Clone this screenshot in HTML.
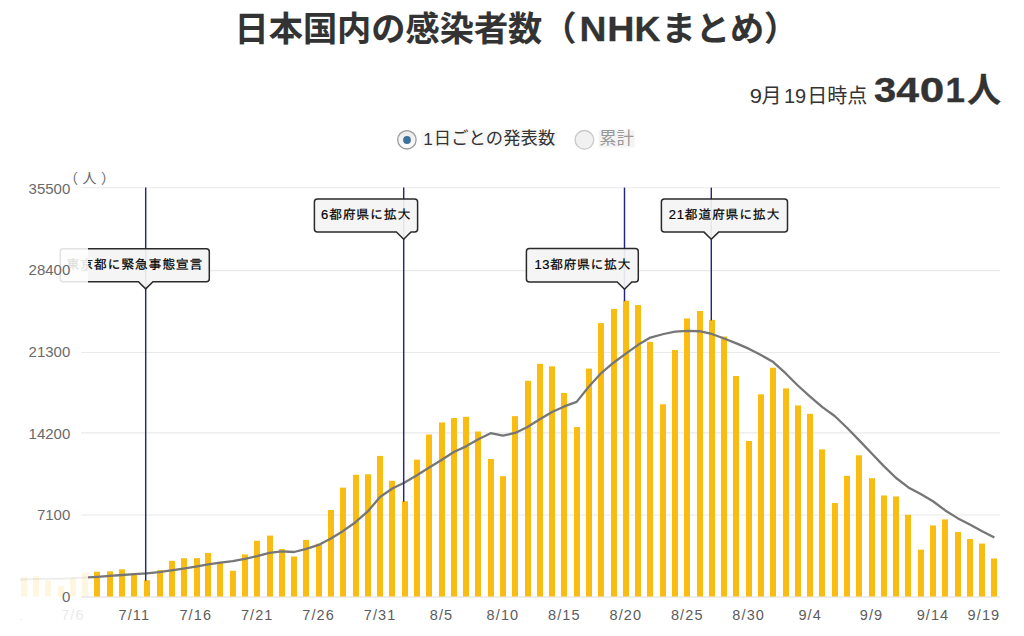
<!DOCTYPE html>
<html lang="ja"><head><meta charset="utf-8"><title>日本国内の感染者数（NHKまとめ）</title>
<style>html,body{margin:0;padding:0;background:#fff}body{width:1024px;height:636px;overflow:hidden;font-family:"Liberation Sans","Noto Sans CJK JP",sans-serif}svg{display:block}text{font-family:"Liberation Sans","Noto Sans CJK JP",sans-serif}</style></head><body>
<svg width="1024" height="636" viewBox="0 0 1024 636">
<rect width="1024" height="636" fill="#fff"/>
<defs><clipPath id="plot"><rect x="88" y="150" width="912" height="460"/></clipPath><clipPath id="fade"><rect x="20" y="150" width="68" height="480"/></clipPath></defs>
<g fill="#333"><title>日本国内の感染者数（NHKまとめ）</title>
<text x="234.5" y="41" font-size="34.2" font-weight="bold" textLength="342" stroke="#333" stroke-width="0.1">日本国内の感染者数（</text>
<text x="661.5" y="41" font-size="34.2" font-weight="bold" textLength="136.8" stroke="#333" stroke-width="0.1">まとめ）</text>
<text transform="translate(579.5,41.3) scale(1.07,1)" font-size="34.9" font-weight="bold" stroke="#333" stroke-width="0.25">N</text>
<text transform="translate(607.27,41.3) scale(1.08,1)" font-size="34.9" font-weight="bold" stroke="#333" stroke-width="0.25">H</text>
<text transform="translate(634.6,41.3) scale(1.03,1)" font-size="34.9" font-weight="bold" stroke="#333" stroke-width="0.25">K</text>
</g>
<g fill="#333"><title>9月19日時点 3401人</title>
<text transform="translate(749.7,102.8) scale(1.1,1)" font-size="20">9</text>
<text transform="translate(783.9,102.8) scale(1,1)" font-size="20">19</text>
<text x="761.5" y="102.6" font-size="20">月</text>
<text x="807.2" y="102.6" font-size="20">日時点</text>
<text transform="translate(873.99,102.4) scale(1.14,1)" font-size="35" font-weight="bold" stroke="#333" stroke-width="0.35">3</text>
<text transform="translate(896.28,102.4) scale(1.17,1)" font-size="35" font-weight="bold" stroke="#333" stroke-width="0.35">4</text>
<text transform="translate(919.85,102.4) scale(1.26,1)" font-size="35" font-weight="bold" stroke="#333" stroke-width="0.35">0</text>
<text transform="translate(945.59,102.4) scale(1,1)" font-size="35" font-weight="bold" stroke="#333" stroke-width="0.35">1</text>
<text x="967" y="102" font-size="34" font-weight="bold" stroke="#333" stroke-width="0.3">人</text></g>
<defs><linearGradient id="rg" x1="0" y1="0" x2="0" y2="1"><stop offset="0" stop-color="#e9e9e9"/><stop offset="1" stop-color="#ffffff"/></linearGradient></defs>
<rect x="421" y="130.5" width="136" height="17" fill="#f8f8f8"/><rect x="598.5" y="130.5" width="36" height="17" fill="#f4f4f4"/>
<circle cx="406.9" cy="139.8" r="9.2" fill="url(#rg)" stroke="#9c9c9c" stroke-width="1.3"/><circle cx="407" cy="140" r="3.9" fill="#3f729b"/>
<g fill="#333"><title>1日ごとの発表数</title>
<text transform="translate(423.2,144.6) scale(1,1)" font-size="17.3">1</text>
<text x="433.8" y="144.4" font-size="17.3" textLength="121.5">日ごとの発表数</text></g>
<circle cx="584.4" cy="139.8" r="9.3" fill="#f1f1f1" stroke="#c9c9c9" stroke-width="1.3"/>
<g fill="#999"><title>累計</title><text x="599.3" y="144.4" font-size="17.3" textLength="34.6">累計</text></g>
<line x1="81" x2="1000.2" y1="597" y2="597" stroke="#dcdce4" stroke-width="1.1"/>
<line x1="81" x2="1000.2" y1="515" y2="515" stroke="#eaeaea" stroke-width="1.1"/>
<line x1="81" x2="1000.2" y1="432.9" y2="432.9" stroke="#eaeaea" stroke-width="1.1"/>
<line x1="81" x2="1000.2" y1="352.5" y2="352.5" stroke="#eaeaea" stroke-width="1.1"/>
<line x1="81" x2="1000.2" y1="270.6" y2="270.6" stroke="#eaeaea" stroke-width="1.1"/>
<line x1="81" x2="1000.2" y1="187.7" y2="187.7" stroke="#eaeaea" stroke-width="1.1"/>
<g fill="#f8bc12" opacity="0.13" clip-path="url(#fade)"><rect x="8" y="577.38" width="6" height="19.12"/><rect x="21" y="577.13" width="6" height="19.37"/><rect x="33" y="575.92" width="6" height="20.58"/><rect x="45" y="580.46" width="6" height="16.04"/><rect x="58" y="585.68" width="6" height="10.82"/><rect x="70" y="578.34" width="6" height="18.16"/><rect x="82" y="572.37" width="6" height="24.13"/></g>
<g fill="#f8bc12" clip-path="url(#plot)"><rect x="82" y="572.37" width="6" height="24.13"/><rect x="94" y="571.73" width="6" height="24.77"/><rect x="107" y="571.37" width="6" height="25.13"/><rect x="119" y="569.3" width="6" height="27.2"/><rect x="131" y="574.19" width="6" height="22.31"/><rect x="144" y="580.22" width="6" height="16.28"/><rect x="157" y="570.13" width="6" height="26.37"/><rect x="169" y="560.86" width="6" height="35.64"/><rect x="181" y="558.29" width="6" height="38.21"/><rect x="194" y="558.13" width="6" height="38.37"/><rect x="205" y="552.92" width="6" height="43.58"/><rect x="217" y="561.9" width="6" height="34.6"/><rect x="230" y="570.78" width="6" height="25.72"/><rect x="242" y="554.39" width="6" height="42.11"/><rect x="254" y="540.79" width="6" height="55.71"/><rect x="267" y="535.59" width="6" height="60.91"/><rect x="279" y="549.03" width="6" height="47.47"/><rect x="291" y="556.5" width="6" height="40"/><rect x="303" y="539.91" width="6" height="56.59"/><rect x="316" y="543.67" width="6" height="52.83"/><rect x="328" y="509.98" width="6" height="86.52"/><rect x="340" y="487.65" width="6" height="108.85"/><rect x="353" y="474.76" width="6" height="121.74"/><rect x="365" y="474.25" width="6" height="122.25"/><rect x="377" y="455.93" width="6" height="140.57"/><rect x="389" y="480.75" width="6" height="115.75"/><rect x="402" y="501.22" width="6" height="95.28"/><rect x="414" y="459.64" width="6" height="136.86"/><rect x="426" y="434.52" width="6" height="161.98"/><rect x="439" y="422.41" width="6" height="174.09"/><rect x="451" y="418.02" width="6" height="178.48"/><rect x="463" y="416.78" width="6" height="179.72"/><rect x="475" y="431.48" width="6" height="165.02"/><rect x="488" y="459" width="6" height="137.5"/><rect x="500" y="476.2" width="6" height="120.3"/><rect x="512" y="416.11" width="6" height="180.39"/><rect x="525" y="380.81" width="6" height="215.69"/><rect x="537" y="363.88" width="6" height="232.62"/><rect x="549" y="366.33" width="6" height="230.17"/><rect x="561" y="392.93" width="6" height="203.57"/><rect x="574" y="427.1" width="6" height="169.4"/><rect x="586" y="368.58" width="6" height="227.92"/><rect x="598" y="323.13" width="6" height="273.37"/><rect x="611" y="308.91" width="6" height="287.59"/><rect x="623" y="300.65" width="6" height="295.85"/><rect x="635" y="305.06" width="6" height="291.44"/><rect x="647" y="341.85" width="6" height="254.65"/><rect x="660" y="404.3" width="6" height="192.2"/><rect x="672" y="350.05" width="6" height="246.45"/><rect x="684" y="318.49" width="6" height="278.01"/><rect x="697" y="310.98" width="6" height="285.52"/><rect x="709" y="319.88" width="6" height="276.62"/><rect x="721" y="336.54" width="6" height="259.96"/><rect x="733" y="375.96" width="6" height="220.54"/><rect x="746" y="441.05" width="6" height="155.45"/><rect x="758" y="394.3" width="6" height="202.2"/><rect x="770" y="367.71" width="6" height="228.79"/><rect x="783" y="388.39" width="6" height="208.11"/><rect x="795" y="405.47" width="6" height="191.03"/><rect x="807" y="413.81" width="6" height="182.69"/><rect x="819" y="449.42" width="6" height="147.08"/><rect x="832" y="503.04" width="6" height="93.46"/><rect x="844" y="475.84" width="6" height="120.66"/><rect x="856" y="455.3" width="6" height="141.2"/><rect x="869" y="478.19" width="6" height="118.31"/><rect x="881" y="495.49" width="6" height="101.01"/><rect x="893" y="496.47" width="6" height="100.03"/><rect x="905" y="514.77" width="6" height="81.73"/><rect x="918" y="549.65" width="6" height="46.85"/><rect x="930" y="525.49" width="6" height="71.01"/><rect x="942" y="519.42" width="6" height="77.08"/><rect x="955" y="532.05" width="6" height="64.45"/><rect x="967" y="539.05" width="6" height="57.45"/><rect x="979" y="543.56" width="6" height="52.94"/><rect x="991" y="558.48" width="6" height="38.02"/></g>
<polyline points="11.45,579.58 23.74,579.47 36.02,579.05 48.31,578.72 60.6,578.67 72.89,578.2 85.17,577.59 97.46,576.78 109.75,575.95 122.03,575 134.32,574.1 146.61,573.31 158.89,572.13 171.18,570.48 183.47,568.55 195.75,566.65 208.04,564.3 220.33,562.53 232.62,561.18 244.9,558.92 257.19,556.04 269.48,552.78 281.76,551.47 294.05,551.99 306.34,548.83 318.62,544.94 330.91,538.56 343.2,530.93 355.49,522.2 367.77,511.46 380.06,497.02 392.35,488.53 404.63,482.43 416.92,475.2 429.21,467.58 441.5,460.06 453.78,451.99 466.07,446.37 478.36,439.29 490.64,433.23 502.93,435.61 515.22,432.96 527.5,426.99 539.79,419.22 552.08,411.97 564.37,406.44 576.65,401.86 588.94,386.41 601.23,373.06 613.51,362.74 625.8,353.66 638.09,344.86 650.37,337.53 662.66,334.25 674.95,331.59 687.24,330.93 699.52,331.23 711.81,333.99 724.1,338.51 736.38,343.4 748.67,348.68 760.96,355.03 773.24,362.1 785.53,373.21 797.82,385.5 810.11,396.59 822.39,407.14 834.68,416.04 846.97,427.75 859.25,440.33 871.54,453.22 883.83,466.14 896.11,478.01 908.4,487.39 920.69,494.09 932.98,501.21 945.26,510.42 957.55,518.15 969.84,524.41 982.12,531.17 994.41,537.45" fill="none" stroke="#7d7d7d" stroke-width="2" stroke-linejoin="round" opacity="0.13" clip-path="url(#fade)"/>
<polyline points="11.45,579.58 23.74,579.47 36.02,579.05 48.31,578.72 60.6,578.67 72.89,578.2 85.17,577.59 97.46,576.78 109.75,575.95 122.03,575 134.32,574.1 146.61,573.31 158.89,572.13 171.18,570.48 183.47,568.55 195.75,566.65 208.04,564.3 220.33,562.53 232.62,561.18 244.9,558.92 257.19,556.04 269.48,552.78 281.76,551.47 294.05,551.99 306.34,548.83 318.62,544.94 330.91,538.56 343.2,530.93 355.49,522.2 367.77,511.46 380.06,497.02 392.35,488.53 404.63,482.43 416.92,475.2 429.21,467.58 441.5,460.06 453.78,451.99 466.07,446.37 478.36,439.29 490.64,433.23 502.93,435.61 515.22,432.96 527.5,426.99 539.79,419.22 552.08,411.97 564.37,406.44 576.65,401.86 588.94,386.41 601.23,373.06 613.51,362.74 625.8,353.66 638.09,344.86 650.37,337.53 662.66,334.25 674.95,331.59 687.24,330.93 699.52,331.23 711.81,333.99 724.1,338.51 736.38,343.4 748.67,348.68 760.96,355.03 773.24,362.1 785.53,373.21 797.82,385.5 810.11,396.59 822.39,407.14 834.68,416.04 846.97,427.75 859.25,440.33 871.54,453.22 883.83,466.14 896.11,478.01 908.4,487.39 920.69,494.09 932.98,501.21 945.26,510.42 957.55,518.15 969.84,524.41 982.12,531.17 994.41,537.45" fill="none" stroke="#767676" stroke-width="2.3" stroke-linejoin="round" clip-path="url(#plot)"/>
<line x1="145.7" x2="145.7" y1="187.6" y2="580.72" stroke="#26267e" stroke-width="1.45"/>
<line x1="403.7" x2="403.7" y1="187.6" y2="501.72" stroke="#26267e" stroke-width="1.45"/>
<line x1="624.5" x2="624.5" y1="187.6" y2="301.15" stroke="#26267e" stroke-width="1.45"/>
<line x1="711.3" x2="711.3" y1="187.6" y2="320.38" stroke="#26267e" stroke-width="1.45"/>
<g opacity="0.13" clip-path="url(#fade)"><g><title>東京都に緊急事態宣言</title><path d="M63.2,248.7H206.3Q209.3,248.7 209.3,251.7V278.7Q209.3,281.7 206.3,281.7H153L145.7,288.9L138.4,281.7H63.2Q60.2,281.7 60.2,278.7V251.7Q60.2,248.7 63.2,248.7Z" fill="#f4f4f4" fill-opacity="0.92" stroke="#2a2a2a" stroke-width="1.5"/><text x="66.5" y="269.2" font-size="13" textLength="136" fill="#000" stroke="#000" stroke-width="0.2" style="font-family:'Liberation Sans','IPAGothic','Noto Sans CJK JP',sans-serif">東京都に緊急事態宣言</text></g></g>
<g clip-path="url(#plot)"><g><title>東京都に緊急事態宣言</title><path d="M63.2,248.7H206.3Q209.3,248.7 209.3,251.7V278.7Q209.3,281.7 206.3,281.7H153L145.7,288.9L138.4,281.7H63.2Q60.2,281.7 60.2,278.7V251.7Q60.2,248.7 63.2,248.7Z" fill="#f4f4f4" fill-opacity="0.92" stroke="#2a2a2a" stroke-width="1.5"/><text x="66.5" y="269.2" font-size="13" textLength="136" fill="#000" stroke="#000" stroke-width="0.2" style="font-family:'Liberation Sans','IPAGothic','Noto Sans CJK JP',sans-serif">東京都に緊急事態宣言</text></g></g>
<g><title>6都府県に拡大</title><path d="M317.4,198.9H414.6Q417.6,198.9 417.6,201.9V229Q417.6,232 414.6,232H411L403.7,239.2L396.4,232H317.4Q314.4,232 314.4,229V201.9Q314.4,198.9 317.4,198.9Z" fill="#f4f4f4" fill-opacity="0.92" stroke="#2a2a2a" stroke-width="1.5"/><text x="321" y="219.4" font-size="13" textLength="89.5" fill="#000" stroke="#000" stroke-width="0.2" style="font-family:'Liberation Sans','IPAGothic','Noto Sans CJK JP',sans-serif">6都府県に拡大</text></g>
<g><title>13都府県に拡大</title><path d="M529.4,248.6H635.3Q638.3,248.6 638.3,251.6V279Q638.3,282 635.3,282H631.8L624.5,289.2L617.2,282H529.4Q526.4,282 526.4,279V251.6Q526.4,248.6 529.4,248.6Z" fill="#f4f4f4" fill-opacity="0.92" stroke="#2a2a2a" stroke-width="1.5"/><text x="534.5" y="269.2" font-size="13" textLength="96" fill="#000" stroke="#000" stroke-width="0.2" style="font-family:'Liberation Sans','IPAGothic','Noto Sans CJK JP',sans-serif">13都府県に拡大</text></g>
<g><title>21都道府県に拡大</title><path d="M664.4,198.9H784.5Q787.5,198.9 787.5,201.9V229.1Q787.5,232.1 784.5,232.1H718.6L711.3,239.3L704,232.1H664.4Q661.4,232.1 661.4,229.1V201.9Q661.4,198.9 664.4,198.9Z" fill="#f4f4f4" fill-opacity="0.92" stroke="#2a2a2a" stroke-width="1.5"/><text x="668.8" y="219.2" font-size="13" textLength="110.7" fill="#000" stroke="#000" stroke-width="0.2" style="font-family:'Liberation Sans','IPAGothic','Noto Sans CJK JP',sans-serif">21都道府県に拡大</text></g>
<text x="70.3" y="601.9" font-size="15" fill="#6a6a6a" text-anchor="end">0</text>
<text x="70.3" y="520.28" font-size="15" fill="#6a6a6a" text-anchor="end">7100</text>
<text x="70.3" y="438.66" font-size="15" fill="#6a6a6a" text-anchor="end">14200</text>
<text x="70.3" y="357.04" font-size="15" fill="#6a6a6a" text-anchor="end">21300</text>
<text x="70.3" y="275.42" font-size="15" fill="#6a6a6a" text-anchor="end">28400</text>
<text x="70.3" y="193.8" font-size="15" fill="#6a6a6a" text-anchor="end">35500</text>
<g fill="#666"><title>（人）</title><text x="64" y="182.5" font-size="14" letter-spacing="4.5">（人）</text></g>
<g clip-path="url(#fade)" opacity="0.13"><text x="11.45" y="620.1" font-size="14.5" fill="#5c5c5c" text-anchor="middle" letter-spacing="1.1">7/1</text></g>
<text x="72.89" y="620.1" font-size="14.5" fill="#5c5c5c" text-anchor="middle" letter-spacing="1.1" opacity="0.13">7/6</text>
<text x="134.32" y="620.1" font-size="14.5" fill="#5c5c5c" text-anchor="middle" letter-spacing="1.1">7/11</text>
<text x="195.75" y="620.1" font-size="14.5" fill="#5c5c5c" text-anchor="middle" letter-spacing="1.1">7/16</text>
<text x="257.19" y="620.1" font-size="14.5" fill="#5c5c5c" text-anchor="middle" letter-spacing="1.1">7/21</text>
<text x="318.62" y="620.1" font-size="14.5" fill="#5c5c5c" text-anchor="middle" letter-spacing="1.1">7/26</text>
<text x="380.06" y="620.1" font-size="14.5" fill="#5c5c5c" text-anchor="middle" letter-spacing="1.1">7/31</text>
<text x="441.5" y="620.1" font-size="14.5" fill="#5c5c5c" text-anchor="middle" letter-spacing="1.1">8/5</text>
<text x="502.93" y="620.1" font-size="14.5" fill="#5c5c5c" text-anchor="middle" letter-spacing="1.1">8/10</text>
<text x="564.37" y="620.1" font-size="14.5" fill="#5c5c5c" text-anchor="middle" letter-spacing="1.1">8/15</text>
<text x="625.8" y="620.1" font-size="14.5" fill="#5c5c5c" text-anchor="middle" letter-spacing="1.1">8/20</text>
<text x="687.24" y="620.1" font-size="14.5" fill="#5c5c5c" text-anchor="middle" letter-spacing="1.1">8/25</text>
<text x="748.67" y="620.1" font-size="14.5" fill="#5c5c5c" text-anchor="middle" letter-spacing="1.1">8/30</text>
<text x="810.11" y="620.1" font-size="14.5" fill="#5c5c5c" text-anchor="middle" letter-spacing="1.1">9/4</text>
<text x="871.54" y="620.1" font-size="14.5" fill="#5c5c5c" text-anchor="middle" letter-spacing="1.1">9/9</text>
<text x="932.98" y="620.1" font-size="14.5" fill="#5c5c5c" text-anchor="middle" letter-spacing="1.1">9/14</text>
<text x="983.91" y="620.1" font-size="14.5" fill="#5c5c5c" text-anchor="middle" letter-spacing="1.1">9/19</text>
</svg></body></html>
